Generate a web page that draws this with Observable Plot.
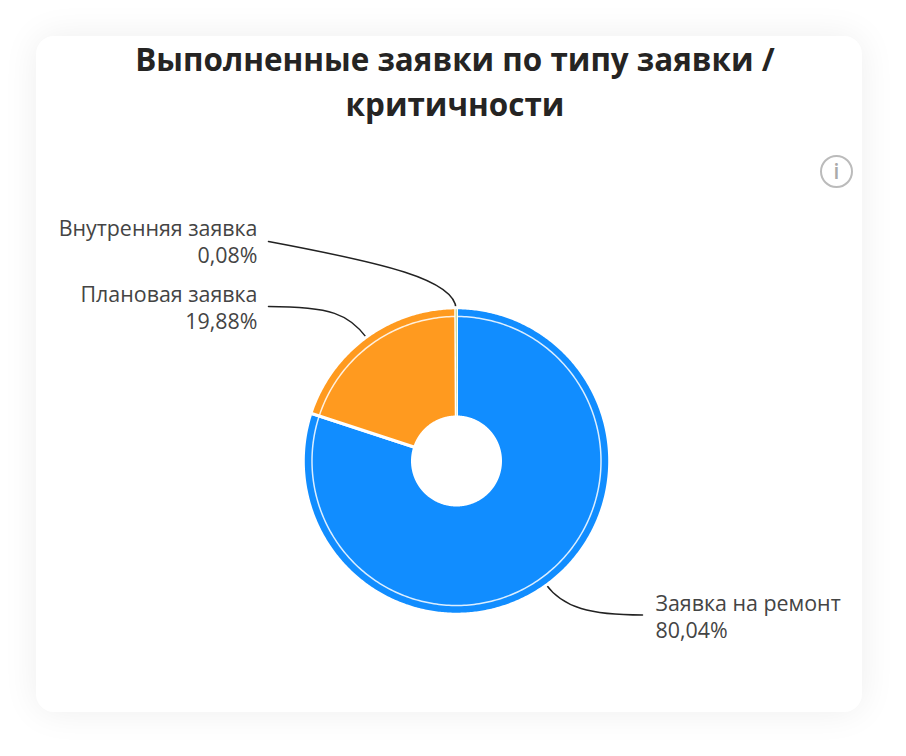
<!DOCTYPE html>
<html lang="ru">
<head>
<meta charset="utf-8">
<script src="https://cdn.jsdelivr.net/npm/d3@7"></script>
<script src="https://cdn.jsdelivr.net/npm/@observablehq/plot@0.6"></script>
<style>
  html, body { margin: 0; background: #fff; }
  #card { position: absolute; left: 36px; top: 36px; width: 826px; height: 676px; background: #fff;
          border-radius: 18px; box-shadow: 0 0 36px rgba(0,0,0,.07); }
  #title { position: absolute; left: 0; top: 0; width: 838px; text-align: center; margin: 0;
           font: 700 31.4px/45px "Open Sans", sans-serif; color: #252423; }
  #chart { position: absolute; left: 0; top: 94px; }
  #info { position: absolute; left: 784px; top: 119px; width: 29px; height: 29px; border: 2.5px solid #bbb; border-radius: 50%;
          text-align: center; font: 600 21px/29px "Open Sans", sans-serif; color: #aaa; }
</style>
</head>
<body>
<div id="card">
  <h1 id="title">Выполненные заявки по типу заявки /<br>критичности</h1>
  <div id="chart"></div>
  <div id="info">i</div>
</div>
<script>
const categories = ["Заявка на ремонт", "Плановая заявка", "Внутренняя заявка"];
const shares = [80.04, 19.88, 0.08];
const shareLabels = ["80,04%", "19,88%", "0,08%"];
const colors = ["#118DFF", "#FF9A1F", "#9DBB45"];

// Pie geometry, in units of the x/y scales (1 unit = 1px), centred on 0,0
const outerR = 151.7, innerR = 45.5, ringR = 144.5, sepW = 3;
const total = d3.sum(shares);
const cum = d3.cumsum(shares);
const startOf = i => (i ? cum[i - 1] : 0) / total * 2 * Math.PI;
const endOf = i => cum[i] / total * 2 * Math.PI;
const polar = (a, r) => [r * Math.sin(a), -r * Math.cos(a)];

function slice(i, rOut, rIn) {
  const a0 = startOf(i), a1 = endOf(i);
  const n = Math.max(1, Math.ceil((a1 - a0) / 0.01));
  const pts = [];
  for (let k = 0; k <= n; k++) pts.push(polar(a0 + (a1 - a0) * k / n, rOut));
  for (let k = n; k >= 0; k--) pts.push(polar(a0 + (a1 - a0) * k / n, rIn));
  pts.push(pts[0]);
  return pts.map(([x, y]) => ({x, y, category: categories[i]}));
}
const ringPts = d3.range(0, 361, 1).map(a => {
  const [x, y] = polar(a * Math.PI / 180, ringR);
  return {x, y};
});

// Label placement per category: side, label block y, leader bend lengths
const labelSide = [1, -1, -1];
const labelX = 199;
const leaderEndX = [186, 188, 188];
const labelY = [154.5, -154, -220];
const leaderEndY = [154, -154.5, -219.5];
const radialHandle = [30, 30, 30];
const endHandle = [52, 62, 112];
const endHandleDrop = [0, 0, 21];

const labels = categories.map((c, i) => ({
  text: `${c}\n${shareLabels[i]}`,
  x: labelSide[i] * labelX,
  y: labelY[i],
  side: labelSide[i]
}));

const leaders = categories.flatMap((c, i) => {
  const mid = (startOf(i) + endOf(i)) / 2;
  const [ax, ay] = polar(mid, outerR);
  const [hx, hy] = polar(mid, outerR + radialHandle[i]);
  const ex = labelSide[i] * leaderEndX[i], ey = leaderEndY[i];
  return [[ax, ay], [hx, hy], [ex - labelSide[i] * endHandle[i], ey + endHandleDrop[i]], [ex, ey]]
    .map(([x, y]) => ({x, y, category: c}));
});

// Curve factory: one cubic Bezier through four given points
const cubic = ctx => {
  let p = [];
  return {
    areaStart() {}, areaEnd() {},
    lineStart() { p = []; },
    lineEnd() {
      ctx.moveTo(p[0], p[1]);
      ctx.bezierCurveTo(p[2], p[3], p[4], p[5], p[6], p[7]);
    },
    point(x, y) { p.push(+x, +y); }
  };
};

const font = '"Open Sans", sans-serif';
const textStyle = {x: "x", y: "y", text: "text", fontSize: 21.4, lineHeight: 1.26, fill: "#444", fontFamily: font};
const chart = Plot.plot({
  width: 826,
  height: 580,
  margin: 0,
  style: {background: "transparent", overflow: "visible"},
  x: {domain: [-420, 406], range: [0, 826], axis: null},
  y: {domain: [-330.5, 249.5], range: [0, 580], axis: null},
  color: {domain: categories, range: colors},
  marks: [
    Plot.line(leaders, {x: "x", y: "y", z: "category", stroke: "#222", strokeWidth: 1.5, curve: cubic}),
    Plot.line([0, 1].flatMap(i => slice(i, outerR + sepW / 2, innerR - sepW / 2)), {
      x: "x", y: "y", z: "category", fill: "category", stroke: "white", strokeWidth: sepW, curve: "linear"
    }),
    Plot.line(ringPts, {x: "x", y: "y", stroke: "white", strokeWidth: 1.5, strokeOpacity: 0.85}),
    Plot.line(slice(2, outerR, innerR), {x: "x", y: "y", z: "category", fill: "category", stroke: "none"}),
    Plot.text(labels.filter(d => d.side > 0), {...textStyle, textAnchor: "start"}),
    Plot.text(labels.filter(d => d.side < 0), {...textStyle, textAnchor: "end"})
  ]
});
document.getElementById("chart").append(chart);
</script>
</body>
</html>
